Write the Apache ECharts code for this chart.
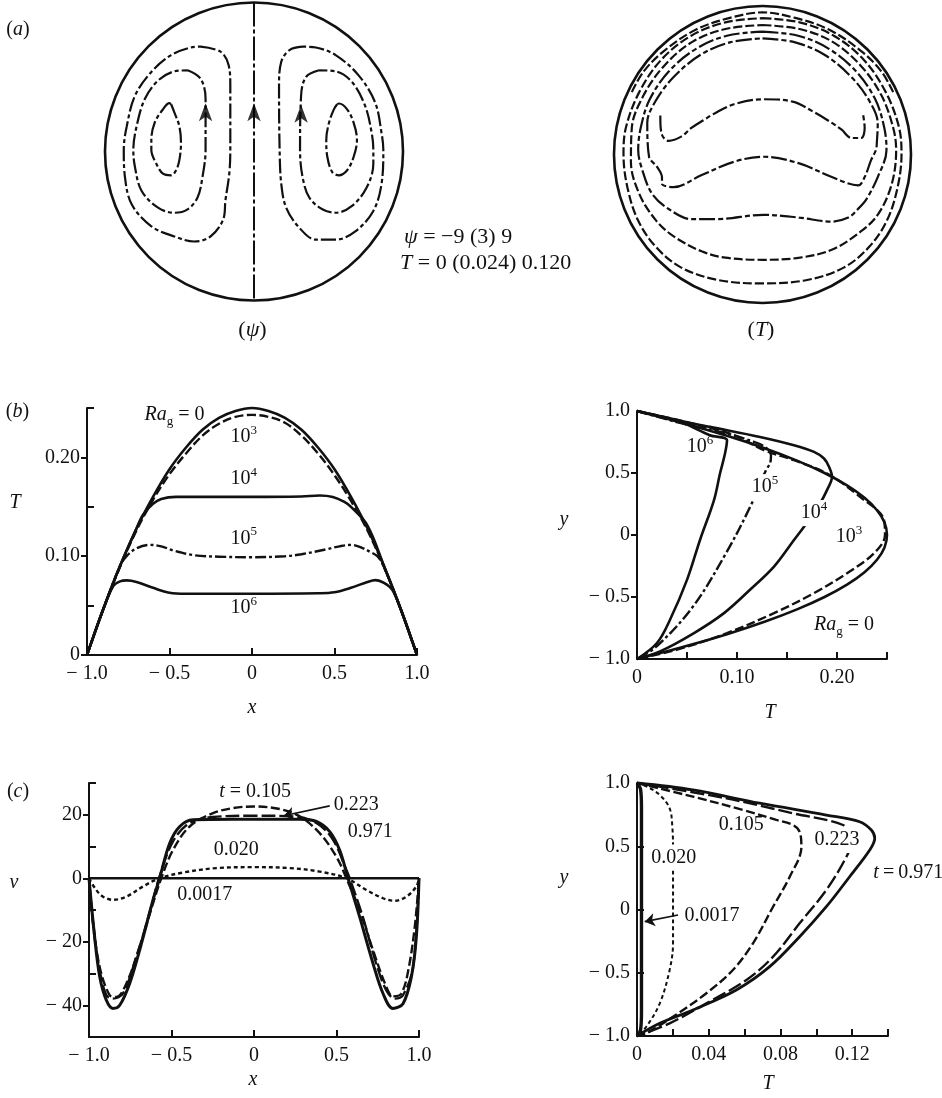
<!DOCTYPE html>
<html>
<head>
<meta charset="utf-8">
<script src="https://cdn.jsdelivr.net/npm/echarts@6/dist/echarts.min.js"></script>
<style>
  html, body { margin: 0; padding: 0; background: #fff; }
  #chart { width: 942px; height: 1098px; }
</style>
</head>
<body>
<div id="chart"></div>
<script>
// ---------------------------------------------------------------
// (a) Stream-function and isotherm contours in the unit circle
//     (coordinates scaled to the tube radius)
// ---------------------------------------------------------------
const psiCentre      = [[0, 1], [0, -1]];
const psiLeftOuter   = [[-0.358,0.704],[-0.225,0.670],[-0.170,0.579],[-0.159,0.442],[-0.159,0.010],[-0.166,-0.150],[-0.192,-0.331],[-0.203,-0.445],[-0.291,-0.570],[-0.402,-0.604],[-0.534,-0.570],[-0.689,-0.502],[-0.821,-0.354],[-0.866,-0.172],[-0.874,0.010],[-0.854,0.169],[-0.799,0.374],[-0.689,0.534],[-0.556,0.647],[-0.424,0.698],[-0.358,0.704]];
const psiLeftMiddle  = [[-0.446,0.545],[-0.358,0.488],[-0.325,0.352],[-0.325,0.010],[-0.346,-0.172],[-0.379,-0.309],[-0.446,-0.388],[-0.534,-0.411],[-0.644,-0.377],[-0.755,-0.263],[-0.799,-0.104],[-0.810,0.010],[-0.788,0.169],[-0.733,0.352],[-0.644,0.476],[-0.534,0.538],[-0.446,0.545]];
const psiLeftInner   = [[-0.556,0.317],[-0.534,0.261],[-0.501,0.169],[-0.490,0.056],[-0.501,-0.058],[-0.523,-0.126],[-0.556,-0.160],[-0.611,-0.149],[-0.656,-0.081],[-0.689,0.010],[-0.689,0.078],[-0.667,0.192],[-0.611,0.283],[-0.568,0.324],[-0.556,0.317]];
const psiRightOuter  = [[0.326,0.704],[0.238,0.681],[0.183,0.602],[0.168,0.442],[0.172,0.010],[0.183,-0.217],[0.216,-0.377],[0.305,-0.513],[0.415,-0.592],[0.548,-0.592],[0.680,-0.536],[0.801,-0.399],[0.856,-0.217],[0.868,0.010],[0.856,0.124],[0.813,0.329],[0.702,0.511],[0.548,0.647],[0.415,0.698],[0.326,0.704]];
const psiRightMiddle = [[0.437,0.545],[0.349,0.500],[0.316,0.374],[0.309,0.010],[0.326,-0.172],[0.371,-0.309],[0.459,-0.388],[0.548,-0.411],[0.658,-0.365],[0.757,-0.240],[0.801,-0.081],[0.801,0.010],[0.790,0.124],[0.746,0.306],[0.658,0.466],[0.548,0.538],[0.437,0.545]];
const psiRightInner  = [[0.558,0.317],[0.536,0.283],[0.503,0.192],[0.485,0.078],[0.492,-0.035],[0.525,-0.138],[0.570,-0.160],[0.625,-0.126],[0.669,-0.035],[0.691,0.078],[0.669,0.192],[0.625,0.283],[0.570,0.322],[0.558,0.317]];
const psiArrows      = [[-0.325,0.324],[0,0.324],[0.316,0.314]];

const isoA = [[-0.88,0.42],[-0.80,0.56],[-0.66,0.70],[-0.45,0.84],[-0.22,0.92],[0,0.957],[0.22,0.92],[0.45,0.84],[0.66,0.70],[0.80,0.56],[0.88,0.42]];
const isoB = [[0,0.918],[0.25,0.89],[0.48,0.80],[0.68,0.64],[0.83,0.42],[0.92,0.18],[0.936,0.0],[0.91,-0.22],[0.84,-0.44],[0.72,-0.62],[0.55,-0.76],[0.3,-0.845],[0,-0.868],[-0.3,-0.845],[-0.55,-0.76],[-0.72,-0.62],[-0.84,-0.44],[-0.91,-0.22],[-0.936,0.0],[-0.92,0.18],[-0.83,0.42],[-0.68,0.64],[-0.48,0.80],[-0.25,0.89],[0,0.918]];
const isoC = [[0,0.872],[0.25,0.845],[0.47,0.76],[0.66,0.60],[0.80,0.40],[0.88,0.18],[0.90,0.03],[0.87,-0.20],[0.78,-0.40],[0.66,-0.52],[0.47,-0.64],[0.25,-0.695],[0,-0.709],[-0.25,-0.695],[-0.41,-0.652],[-0.60,-0.55],[-0.72,-0.44],[-0.83,-0.265],[-0.886,-0.05],[-0.88,0.18],[-0.80,0.40],[-0.66,0.60],[-0.47,0.76],[-0.25,0.845],[0,0.872]];
const isoD = [[0,0.827],[0.24,0.80],[0.45,0.71],[0.63,0.56],[0.76,0.37],[0.82,0.18],[0.835,0.031],[0.776,-0.152],[0.70,-0.30],[0.64,-0.37],[0.578,-0.425],[0.467,-0.452],[0.248,-0.425],[0.005,-0.406],[-0.302,-0.435],[-0.479,-0.435],[-0.632,-0.367],[-0.743,-0.265],[-0.809,-0.106],[-0.837,0.031],[-0.82,0.18],[-0.76,0.37],[-0.63,0.56],[-0.45,0.71],[-0.24,0.80],[0,0.827]];
const isoE = [[0,0.782],[0.22,0.755],[0.42,0.67],[0.60,0.52],[0.72,0.36],[0.776,0.21],[0.77,0.08],[0.764,0.031],[0.731,-0.038],[0.688,-0.152],[0.644,-0.208],[0.467,-0.152],[0.248,-0.06],[0.005,-0.015],[-0.193,-0.049],[-0.413,-0.14],[-0.599,-0.22],[-0.677,-0.197],[-0.677,-0.152],[-0.71,-0.083],[-0.764,-0.015],[-0.776,0.213],[-0.72,0.36],[-0.60,0.52],[-0.42,0.67],[-0.22,0.755],[0,0.782]];
const isoF = [[-0.688,0.263],[-0.688,0.247],[-0.677,0.133],[-0.632,0.092],[-0.545,0.122],[-0.479,0.179],[-0.391,0.235],[-0.335,0.270],[-0.193,0.338],[0.005,0.372],[0.203,0.356],[0.335,0.292],[0.467,0.213],[0.533,0.167],[0.599,0.111],[0.665,0.111],[0.688,0.179],[0.677,0.270]];

// ---------------------------------------------------------------
// (b) Temperature along the horizontal (x, T) and vertical (T, y)
//     diameters for Ra_g = 0 ... 10^6
// ---------------------------------------------------------------
const bxRa0 = [[-1,0],[-0.9,0.047],[-0.8,0.09],[-0.7,0.128],[-0.6,0.16],[-0.5,0.188],[-0.4,0.21],[-0.3,0.228],[-0.2,0.24],[-0.1,0.247],[0,0.25],[0.1,0.247],[0.2,0.24],[0.3,0.228],[0.4,0.21],[0.5,0.188],[0.6,0.16],[0.7,0.128],[0.8,0.09],[0.9,0.047],[1,0]];
const bxRa3 = [[-1,0],[-0.9,0.047],[-0.8,0.089],[-0.7,0.126],[-0.6,0.157],[-0.5,0.183],[-0.4,0.204],[-0.3,0.222],[-0.2,0.234],[-0.1,0.241],[0,0.243],[0.1,0.241],[0.2,0.235],[0.3,0.222],[0.4,0.204],[0.5,0.182],[0.6,0.156],[0.7,0.126],[0.8,0.089],[0.9,0.047],[1,0]];
const bxRa4 = [[-1,0],[-0.9,0.047],[-0.8,0.09],[-0.7,0.128],[-0.66,0.142],[-0.6,0.153],[-0.55,0.158],[-0.46,0.16],[-0.3,0.16],[0,0.16],[0.3,0.1605],[0.41,0.1615],[0.49,0.16],[0.56,0.155],[0.6,0.15],[0.7,0.131],[0.8,0.09],[0.9,0.047],[1,0]];
const bxRa5 = [[-1,0],[-0.9,0.047],[-0.8,0.09],[-0.76,0.1],[-0.7,0.108],[-0.62,0.1115],[-0.55,0.11],[-0.48,0.106],[-0.35,0.101],[-0.2,0.0995],[0,0.099],[0.2,0.1],[0.3,0.102],[0.45,0.107],[0.53,0.11],[0.6,0.1115],[0.66,0.109],[0.72,0.104],[0.76,0.1],[0.8,0.089],[0.9,0.047],[1,0]];
const bxRa6 = [[-1,0],[-0.95,0.024],[-0.9,0.047],[-0.84,0.07],[-0.8,0.0745],[-0.76,0.0755],[-0.7,0.074],[-0.6,0.068],[-0.5,0.063],[-0.4,0.062],[0,0.062],[0.4,0.0625],[0.5,0.0635],[0.6,0.068],[0.7,0.074],[0.75,0.0758],[0.8,0.073],[0.85,0.066],[0.9,0.047],[0.95,0.024],[1,0]];

const byRa0 = [[0,1],[0.0475,0.9],[0.09,0.8],[0.1275,0.7],[0.16,0.6],[0.1875,0.5],[0.21,0.4],[0.2275,0.3],[0.24,0.2],[0.2475,0.1],[0.25,0],[0.2475,-0.1],[0.24,-0.2],[0.2275,-0.3],[0.21,-0.4],[0.1875,-0.5],[0.16,-0.6],[0.1275,-0.7],[0.09,-0.8],[0.0475,-0.9],[0,-1]];
const byRa3 = [[0,1],[0.05,0.91],[0.097,0.805],[0.127,0.684],[0.157,0.603],[0.19,0.496],[0.223,0.308],[0.247,0.121],[0.248,0],[0.237,-0.147],[0.21,-0.308],[0.177,-0.469],[0.137,-0.63],[0.09,-0.791],[0.04,-0.925],[0,-1]];
const byRa4 = [[0,1],[0.05,0.91],[0.073,0.872],[0.123,0.791],[0.157,0.724],[0.177,0.67],[0.187,0.617],[0.192,0.55],[0.195,0.469],[0.19,0.362],[0.183,0.255],[0.167,0.067],[0.157,-0.04],[0.137,-0.255],[0.113,-0.442],[0.087,-0.63],[0.057,-0.791],[0.023,-0.939],[0,-1]];
const byRa5 = [[0,1],[0.045,0.9],[0.09,0.818],[0.117,0.751],[0.128,0.71],[0.134,0.644],[0.133,0.577],[0.129,0.523],[0.114,0.241],[0.089,-0.147],[0.056,-0.577],[0.0196,-0.899],[0,-1]];
const byRa6 = [[0,1],[0.045,0.905],[0.073,0.805],[0.09,0.764],[0.088,0.657],[0.083,0.496],[0.077,0.282],[0.063,-0.04],[0.05,-0.362],[0.033,-0.684],[0.02,-0.871],[0,-1]];

// ---------------------------------------------------------------
// (c) Transient velocity v(x) and temperature T(y) profiles
// ---------------------------------------------------------------
const cvT0017 = [[-1,0],[-0.5,0],[0,0],[0.5,0],[1,0]];
const cvT020  = [[-1,0],[-0.956,-3.7],[-0.915,-5.8],[-0.855,-6.8],[-0.774,-5.8],[-0.673,-2.6],[-0.572,0],[-0.43,1.8],[-0.228,3.2],[0,3.5],[0.216,3.2],[0.398,2.1],[0.56,0],[0.681,-3.7],[0.782,-6.3],[0.853,-7.1],[0.923,-5.8],[0.984,-2.6],[1,0]];
const cvT105  = [[-1,0],[-0.975,-14],[-0.935,-28],[-0.875,-36.8],[-0.834,-37.4],[-0.774,-33.2],[-0.693,-21.6],[-0.612,-7.9],[-0.562,0],[-0.491,8.9],[-0.39,16.3],[-0.248,20.5],[-0.127,22.1],[0,22.6],[0.156,21.8],[0.277,19.5],[0.398,14.2],[0.499,6.8],[0.56,0],[0.64,-10],[0.721,-22.6],[0.802,-34.2],[0.842,-37.2],[0.893,-36.3],[0.935,-29],[0.975,-15],[1,0]];
const cvT223  = [[-1,0],[-0.97,-17],[-0.935,-29],[-0.895,-36.8],[-0.855,-37.9],[-0.794,-36.3],[-0.713,-24.7],[-0.622,-8.9],[-0.576,0],[-0.491,11.6],[-0.39,17.4],[-0.248,19.3],[0,19.7],[0.236,19.5],[0.378,17.4],[0.479,12.1],[0.56,2.6],[0.58,0],[0.659,-12.1],[0.74,-26.8],[0.802,-35.3],[0.853,-37.9],[0.903,-36.8],[0.964,-27.9],[1,0]];
const cvT971  = [[-1,0],[-0.966,-18.4],[-0.935,-31],[-0.895,-38.4],[-0.855,-41],[-0.814,-40],[-0.754,-33.2],[-0.693,-22.6],[-0.612,-6.8],[-0.572,0],[-0.511,11],[-0.45,16.3],[-0.37,18.4],[-0.127,18.6],[0,18.6],[0.277,18.6],[0.378,17.9],[0.459,14.7],[0.519,8.9],[0.57,0],[0.64,-12.1],[0.721,-26.8],[0.782,-36.3],[0.842,-41],[0.903,-39.5],[0.954,-31],[0.984,-18.4],[1,0]];

const cTT0017 = [[0,1],[0.002,0.95],[0.0025,0.8],[0.0025,0],[0.0025,-0.8],[0.002,-0.95],[0,-1]];
const cTT020  = [[0,1],[0.0056,0.971],[0.0127,0.905],[0.0182,0.8],[0.0197,0.655],[0.0201,0.47],[0.0201,-0.267],[0.0182,-0.478],[0.0127,-0.742],[0.0052,-0.927],[0,-1]];
const cTT105  = [[0,1],[0.0312,0.892],[0.0591,0.787],[0.0777,0.708],[0.087,0.668],[0.0907,0.615],[0.0917,0.496],[0.0852,0.259],[0.0759,0.022],[0.0647,-0.267],[0.0535,-0.478],[0.0387,-0.662],[0.0201,-0.847],[0.0052,-0.979],[0,-1]];
const cTT223  = [[0,1],[0.0499,0.879],[0.087,0.76],[0.1149,0.668],[0.1205,0.563],[0.1168,0.417],[0.1056,0.154],[0.0907,-0.109],[0.0759,-0.373],[0.061,-0.557],[0.0387,-0.742],[0.0182,-0.9],[0,-1]];
const cTT971  = [[0,1],[0.0312,0.945],[0.0684,0.84],[0.1056,0.747],[0.1242,0.694],[0.1307,0.628],[0.1326,0.563],[0.1298,0.47],[0.1186,0.259],[0.1056,0.022],[0.0907,-0.215],[0.074,-0.452],[0.0554,-0.636],[0.0312,-0.794],[0.0127,-0.9],[0,-1]];

// ---------------------------------------------------------------
// Tick values
// ---------------------------------------------------------------
const xTicksDiam  = [-1, -0.5, 0, 0.5, 1];
const xMarksDiam  = [-0.5, 0, 0.5, 1];
const bTLabels    = [0, 0.1, 0.2];
const bTMinor     = [0.05, 0.15, 0.25];
const bTLabelsH   = [0, 0.1, 0.2];
const bTMarksH    = [0.05, 0.1, 0.15, 0.2, 0.25];
const yLabels     = [-1, -0.5, 0, 0.5, 1];
const yMarks      = [-0.5, 0, 0.5];
const vLabels     = [-40, -20, 0, 20];
const vMinor      = [-30, -10, 10, 30];
const cTLabels    = [0, 0.04, 0.08, 0.12];
const cTMarks     = [0.02, 0.04, 0.06, 0.08, 0.1, 0.12, 0.14];

// ---------------------------------------------------------------
// Styling helpers
// ---------------------------------------------------------------
const INK = '#111';
const SERIF = '"Liberation Serif", "DejaVu Serif", serif';
const FS = 20;
const rich = size => ({
  n: { fontFamily: SERIF, fontSize: size, fill: INK, color: INK, lineHeight: 26, verticalAlign: 'middle' },
  i: { fontFamily: SERIF, fontSize: size, fontStyle: 'italic', fill: INK, color: INK, lineHeight: 26, verticalAlign: 'middle' },
  p: { fontFamily: SERIF, fontSize: 13, fill: INK, color: INK, lineHeight: 13, verticalAlign: 'top' },
  s: { fontFamily: SERIF, fontSize: 13, fill: INK, color: INK, lineHeight: 13, verticalAlign: 'bottom' }
});
const RICH = rich(FS);
const RICH_BIG = rich(22);

const fmt = dec => v => (v === 0 ? '0' : (v < 0 ? '\u2212 ' : '') + Math.abs(v).toFixed(dec));

const AXLINE = { show: true, onZero: false, lineStyle: { color: INK, width: 2 } };
const TICKSTYLE = { color: INK, width: 2 };
const LABEL = (values, dec, margin) => ({
  customValues: values, formatter: fmt(dec), color: INK,
  fontFamily: SERIF, fontSize: FS, margin: margin
});

function hidden(gridIndex) {
  return { gridIndex, type: 'value', min: -1, max: 1, show: false };
}
function xAxisOf(gridIndex, min, max, labels, marks, dec) {
  return {
    gridIndex, type: 'value', min, max, position: 'bottom',
    axisLine: AXLINE,
    axisTick: { show: true, inside: true, length: 7, customValues: marks, lineStyle: TICKSTYLE },
    axisLabel: LABEL(labels, dec, 9),
    splitLine: { show: false }
  };
}
function yAxisOf(gridIndex, min, max, labels, marksOut, dec) {
  return {
    gridIndex, type: 'value', min, max, position: 'left',
    axisLine: AXLINE,
    axisTick: { show: marksOut.length > 0, inside: false, length: 6, customValues: marksOut, lineStyle: TICKSTYLE },
    axisLabel: LABEL(labels, dec, 7),
    splitLine: { show: false }
  };
}
function yMinorOf(gridIndex, min, max, marksIn) {
  return {
    gridIndex, type: 'value', min, max, position: 'left',
    axisLine: { show: false, onZero: false },
    axisTick: { show: true, inside: true, length: 7, customValues: marksIn, lineStyle: TICKSTYLE },
    axisLabel: { show: false },
    splitLine: { show: false }
  };
}

function curve(xi, yi, data, dash, width, smooth) {
  return {
    type: 'line', xAxisIndex: xi, yAxisIndex: yi, data,
    symbol: 'none', smooth: smooth === undefined ? 0.35 : smooth, clip: false, silent: true,
    lineStyle: { color: INK, width: width || 2.2, type: dash || 'solid' },
    z: 2
  };
}

// leader arrows drawn as mark lines of an otherwise empty series
function pointers(xi, yi, arrows) {
  return {
    type: 'scatter', xAxisIndex: xi, yAxisIndex: yi, data: [], silent: true,
    markLine: {
      silent: true, symbol: ['none', 'arrow'], symbolSize: 10, animation: false,
      lineStyle: { color: INK, width: 1.6, type: 'solid' },
      label: { show: false },
      data: arrows.map(a => [{ coord: a[0] }, { coord: a[1] }])
    }
  };
}

// curve annotations (placed in each panel's own data coordinates)
const bLeftNotes = [
  { text: '{i|Ra}{s|g}{n| = 0}', at: [-0.47, 0.243] },
  { text: '{n|10}{p|3}', at: [-0.05, 0.2207] },
  { text: '{n|10}{p|4}', at: [-0.05, 0.178] },
  { text: '{n|10}{p|5}', at: [-0.05, 0.118] },
  { text: '{n|10}{p|6}', at: [-0.05, 0.0476] }
];
const bRightNotes = [
  { text: '{n|10}{p|6}', at: [0.063, 0.708] },
  { text: '{n|10}{p|5}', at: [0.128, 0.386], mask: true },
  { text: '{n|10}{p|4}', at: [0.177, 0.177], mask: true },
  { text: '{n|10}{p|3}', at: [0.212, -0.016] },
  { text: '{i|Ra}{s|g}{n| = 0}', at: [0.207, -0.724] }
];
const cLeftNotes = [
  { text: '{i|t}{n| = 0.105}', at: [0.007, 27.1] },
  { text: '{n|0.223}', at: [0.619, 23.3] },
  { text: '{n|0.971}', at: [0.704, 14.5] },
  { text: '{n|0.020}', at: [-0.108, 9.0] },
  { text: '{n|0.0017}', at: [-0.299, -5.2] }
];
const cLeftArrows = [[[0.459, 22.8], [0.18, 19.7]]];
const cRightNotes = [
  { text: '{n|0.105}', at: [0.0581, 0.668] },
  { text: '{n|0.223}', at: [0.1115, 0.549], mask: true },
  { text: '{i|t}{n|\u2009=\u20090.971}', at: [0.1513, 0.293] },
  { text: '{n|0.020}', at: [0.0205, 0.411], mask: true },
  { text: '{n|0.0017}', at: [0.0419, -0.047] }
];
const cRightArrows = [[[0.0229, -0.043], [0.0043, -0.096]]];

// dash patterns
const PSI_DASH = [15, 3, 4, 3];
const RING_DASH = [9, 3];
const INNER_DASH = [16, 3, 5, 3];
const DASH_MED = [9, 3.5];
const DASH_DOT = [11, 3, 3, 3];
const DASH_LONG = [14, 4];
const DASH_SHORT = [4, 3];

function text(x, y, str, align, big, mask) {
  const style = {
    text: str, rich: big ? RICH_BIG : RICH, align: align || 'center', verticalAlign: 'middle',
    fill: INK, fontFamily: SERIF, fontSize: big ? 22 : FS
  };
  if (mask) { style.backgroundColor = '#fff'; style.padding = [0, 2]; }
  return { type: 'text', x, y, z: 100, silent: true, style };
}

// ---------------------------------------------------------------
const fixedText = [
  text(18, 29.5, '{n|(}{i|a}{n|)}'),
  text(17.5, 412, '{n|(}{i|b}{n|)}'),
  text(18, 792, '{n|(}{i|c}{n|)}'),
  text(252.5, 330, '{n|(}{i|ψ}{n|)}', 'center', true),
  text(761, 330, '{n|(}{i|T}{n|)}', 'center', true),
  text(404, 237, '{i|ψ}{n| = \u22129 (3) 9}', 'left', true),
  text(400, 263, '{i|T}{n| = 0 (0.024) 0.120}', 'left', true),
  text(15, 503, '{i|T}'),
  text(252, 708, '{i|x}'),
  text(564, 520, '{i|y}'),
  text(770, 713, '{i|T}'),
  text(14, 883, '{i|v}'),
  text(253, 1080, '{i|x}'),
  text(564, 878, '{i|y}'),
  text(768, 1084, '{i|T}')
];

const option = {
  animation: false,
  backgroundColor: '#fff',
  textStyle: { fontFamily: SERIF, color: INK },
  polar: [
    { center: [254, 151.5], radius: 149 },
    { center: [762.5, 154.5], radius: 148.5 }
  ],
  angleAxis: [0, 1].map(i => ({
    polarIndex: i, min: 0, max: 360,
    axisLine: { show: true, lineStyle: { color: INK, width: 2.6 } },
    axisTick: { show: false }, axisLabel: { show: false },
    splitLine: { show: false }, splitArea: { show: false }
  })),
  radiusAxis: [0, 1].map(i => ({
    polarIndex: i, min: 0, max: 1, show: false,
    axisLine: { show: false }, axisTick: { show: false }, axisLabel: { show: false },
    splitLine: { show: false }
  })),
  grid: [
    { left: 105, top: 2.5, width: 298, height: 298, outerBoundsMode: 'none' },
    { left: 614, top: 6, width: 297, height: 297, outerBoundsMode: 'none' },
    { left: 87, top: 408, width: 330, height: 247, outerBoundsMode: 'none' },
    { left: 637, top: 411, width: 250, height: 248, outerBoundsMode: 'none' },
    { left: 89, top: 783, width: 330, height: 254, outerBoundsMode: 'none' },
    { left: 637, top: 783, width: 251, height: 253, outerBoundsMode: 'none' }
  ],
  xAxis: [
    hidden(0),
    hidden(1),
    xAxisOf(2, -1, 1, xTicksDiam, xMarksDiam, 1),
    xAxisOf(3, 0, 0.25, bTLabelsH, bTMarksH, 2),
    xAxisOf(4, -1, 1, xTicksDiam, xMarksDiam, 1),
    xAxisOf(5, 0, 0.14, cTLabels, cTMarks, 2)
  ],
  yAxis: [
    hidden(0),
    hidden(1),
    yAxisOf(2, 0, 0.25, bTLabels, bTLabels, 2),
    yAxisOf(3, -1, 1, yLabels, yMarks, 1),
    yAxisOf(4, -50, 30, vLabels, vLabels, 0),
    yAxisOf(5, -1, 1, yLabels, [], 1),
    yMinorOf(2, 0, 0.25, bTMinor),
    yMinorOf(4, -50, 30, vMinor),
    yMinorOf(5, -1, 1, yMarks)
  ],
  series: [
    // (a) psi
    curve(0, 0, psiCentre, [24, 3, 4, 3], 2, 0),
    curve(0, 0, psiLeftOuter, PSI_DASH, 2.2),
    curve(0, 0, psiLeftMiddle, PSI_DASH, 2.2),
    curve(0, 0, psiLeftInner, PSI_DASH, 2.2),
    curve(0, 0, psiRightOuter, PSI_DASH, 2.2),
    curve(0, 0, psiRightMiddle, PSI_DASH, 2.2),
    curve(0, 0, psiRightInner, PSI_DASH, 2.2),
    {
      type: 'scatter', xAxisIndex: 0, yAxisIndex: 0, silent: true, z: 5,
      symbol: 'arrow', symbolSize: [10, 18], itemStyle: { color: '#000' },
      data: psiArrows
    },
    // (a) T
    curve(1, 1, isoA, RING_DASH, 2.2),
    curve(1, 1, isoB, RING_DASH, 2.2),
    curve(1, 1, isoC, RING_DASH, 2.2),
    curve(1, 1, isoD, INNER_DASH, 2.2),
    curve(1, 1, isoE, INNER_DASH, 2.2),
    curve(1, 1, isoF, INNER_DASH, 2.2),
    // (b) left
    curve(2, 2, bxRa0, 'solid', 2.6),
    curve(2, 2, bxRa3, DASH_MED, 2.4),
    curve(2, 2, bxRa4, 'solid', 2.6),
    curve(2, 2, bxRa5, DASH_DOT, 2.4),
    curve(2, 2, bxRa6, 'solid', 2.6),
    // (b) right
    curve(3, 3, byRa0, 'solid', 2.6),
    curve(3, 3, byRa3, DASH_MED, 2.4),
    curve(3, 3, byRa4, 'solid', 2.6),
    curve(3, 3, byRa5, DASH_DOT, 2.4),
    curve(3, 3, byRa6, 'solid', 2.6),
    // (c) left
    curve(4, 4, cvT0017, 'solid', 2.4, 0),
    curve(4, 4, cvT020, DASH_SHORT, 2.4),
    curve(4, 4, cvT105, DASH_MED, 2.4),
    curve(4, 4, cvT223, DASH_LONG, 2.4),
    curve(4, 4, cvT971, 'solid', 3),
    pointers(4, 4, cLeftArrows),
    // (c) right
    curve(5, 5, cTT0017, 'solid', 3.4),
    curve(5, 5, cTT020, DASH_SHORT, 2),
    curve(5, 5, cTT105, DASH_MED, 2.4),
    curve(5, 5, cTT223, DASH_LONG, 2.4),
    curve(5, 5, cTT971, 'solid', 2.8),
    pointers(5, 5, cRightArrows)
  ],
  graphic: fixedText
};

const chart = echarts.init(document.getElementById('chart'), null, { renderer: 'canvas', width: 942, height: 1098 });
chart.setOption(option);

// place the curve annotations through each panel's own axes
const noteText = [];
[[2, bLeftNotes], [3, bRightNotes], [4, cLeftNotes], [5, cRightNotes]].forEach(([g, list]) => {
  list.forEach(n => {
    const p = chart.convertToPixel({ gridIndex: g }, n.at);
    noteText.push(text(p[0], p[1], n.text, 'center', false, n.mask));
  });
});
chart.setOption({ graphic: fixedText.concat(noteText) });
</script>
</body>
</html>
